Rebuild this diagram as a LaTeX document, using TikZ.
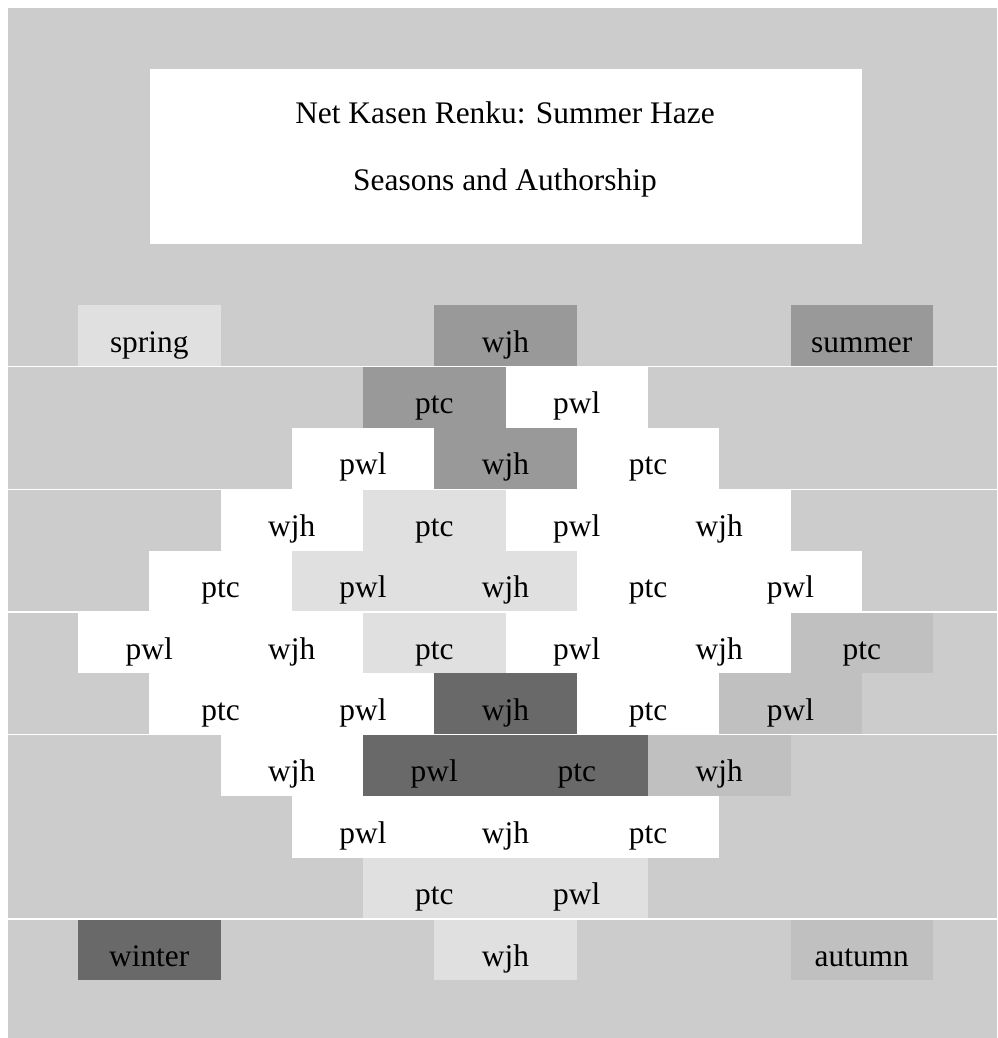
\documentclass[tikz,border=0pt]{standalone}
\usepackage{fontspec}
\setmainfont{Liberation Serif}
\definecolor{bgc}{HTML}{CCCCCC}
\definecolor{springc}{HTML}{E0E0E0}
\definecolor{summerc}{HTML}{999999}
\definecolor{autumnc}{HTML}{C0C0C0}
\definecolor{winterc}{HTML}{696969}
\begin{document}
\begin{tikzpicture}[x=1pt,y=-1pt,
  cell/.style={rectangle, draw=none, minimum width=142.5pt, minimum height=61.4pt,
    inner sep=0pt, text height=32.6pt, text depth=0pt, fill=white,
    font=\fontsize{31.4}{37}\selectfont, text=black},
  sp/.style={cell, fill=springc},
  su/.style={cell, fill=summerc},
  au/.style={cell, fill=autumnc},
  wi/.style={cell, fill=winterc},
  ttl/.style={anchor=base, inner sep=0pt, font=\fontsize{31.4}{37}\selectfont},
  sep/.style={white, line width=1.3pt}]
\useasboundingbox (0,0) rectangle (997,1038);
\fill[white] (0,0) rectangle (997,1038);
\fill[bgc] (8,8) rectangle (997,1038);
% title
\node[rectangle, fill=white, minimum width=712pt, minimum height=175pt, inner sep=0pt] (title) at (506,156.5) {};
\node[ttl] (t1) at (505,124) {Net Kasen Renku: Summer Haze};
\node[ttl] (t2) at (505,190) {Seasons and Authorship};
% row 0
\node[sp] (s0a) at ({149.25+71.25*0},{335.7+61.4*0}) {spring};
\node[su] (s0b) at ({149.25+71.25*5},{335.7+61.4*0}) {wjh};
\node[su] (s0c) at ({149.25+71.25*10},{335.7+61.4*0}) {summer};
% row 1
\node[su] (s1a) at ({149.25+71.25*4},{335.7+61.4*1}) {ptc};
\node[cell] (s1b) at ({149.25+71.25*6},{335.7+61.4*1}) {pwl};
% row 2
\node[cell] (s2a) at ({149.25+71.25*3},{335.7+61.4*2}) {pwl};
\node[su] (s2b) at ({149.25+71.25*5},{335.7+61.4*2}) {wjh};
\node[cell] (s2c) at ({149.25+71.25*7},{335.7+61.4*2}) {ptc};
% row 3
\node[cell] (s3a) at ({149.25+71.25*2},{335.7+61.4*3}) {wjh};
\node[sp] (s3b) at ({149.25+71.25*4},{335.7+61.4*3}) {ptc};
\node[cell] (s3c) at ({149.25+71.25*6},{335.7+61.4*3}) {pwl};
\node[cell] (s3d) at ({149.25+71.25*8},{335.7+61.4*3}) {wjh};
% row 4
\node[cell] (s4a) at ({149.25+71.25*1},{335.7+61.4*4}) {ptc};
\node[sp] (s4b) at ({149.25+71.25*3},{335.7+61.4*4}) {pwl};
\node[sp] (s4c) at ({149.25+71.25*5},{335.7+61.4*4}) {wjh};
\node[cell] (s4d) at ({149.25+71.25*7},{335.7+61.4*4}) {ptc};
\node[cell] (s4e) at ({149.25+71.25*9},{335.7+61.4*4}) {pwl};
% row 5
\node[cell] (s5a) at ({149.25+71.25*0},{335.7+61.4*5}) {pwl};
\node[cell] (s5b) at ({149.25+71.25*2},{335.7+61.4*5}) {wjh};
\node[sp] (s5c) at ({149.25+71.25*4},{335.7+61.4*5}) {ptc};
\node[cell] (s5d) at ({149.25+71.25*6},{335.7+61.4*5}) {pwl};
\node[cell] (s5e) at ({149.25+71.25*8},{335.7+61.4*5}) {wjh};
\node[au] (s5f) at ({149.25+71.25*10},{335.7+61.4*5}) {ptc};
% row 6
\node[cell] (s6a) at ({149.25+71.25*1},{335.7+61.4*6}) {ptc};
\node[cell] (s6b) at ({149.25+71.25*3},{335.7+61.4*6}) {pwl};
\node[wi] (s6c) at ({149.25+71.25*5},{335.7+61.4*6}) {wjh};
\node[cell] (s6d) at ({149.25+71.25*7},{335.7+61.4*6}) {ptc};
\node[au] (s6e) at ({149.25+71.25*9},{335.7+61.4*6}) {pwl};
% row 7
\node[cell] (s7a) at ({149.25+71.25*2},{335.7+61.4*7}) {wjh};
\node[wi] (s7b) at ({149.25+71.25*4},{335.7+61.4*7}) {pwl};
\node[wi] (s7c) at ({149.25+71.25*6},{335.7+61.4*7}) {ptc};
\node[au] (s7d) at ({149.25+71.25*8},{335.7+61.4*7}) {wjh};
% row 8
\node[cell] (s8a) at ({149.25+71.25*3},{335.7+61.4*8}) {pwl};
\node[cell] (s8b) at ({149.25+71.25*5},{335.7+61.4*8}) {wjh};
\node[cell] (s8c) at ({149.25+71.25*7},{335.7+61.4*8}) {ptc};
% row 9
\node[sp] (s9a) at ({149.25+71.25*4},{335.7+61.4*9}) {ptc};
\node[sp] (s9b) at ({149.25+71.25*6},{335.7+61.4*9}) {pwl};
% row 10
\node[wi] (s10a) at ({149.25+71.25*0},{335.7+61.4*10}) {winter};
\node[sp] (s10b) at ({149.25+71.25*5},{335.7+61.4*10}) {wjh};
\node[au] (s10c) at ({149.25+71.25*10},{335.7+61.4*10}) {autumn};
% separators
\foreach \yy in {366.4,489.2,612,734.8,919}
  \draw[sep] (8,\yy) -- (997,\yy);
\end{tikzpicture}
\end{document}
